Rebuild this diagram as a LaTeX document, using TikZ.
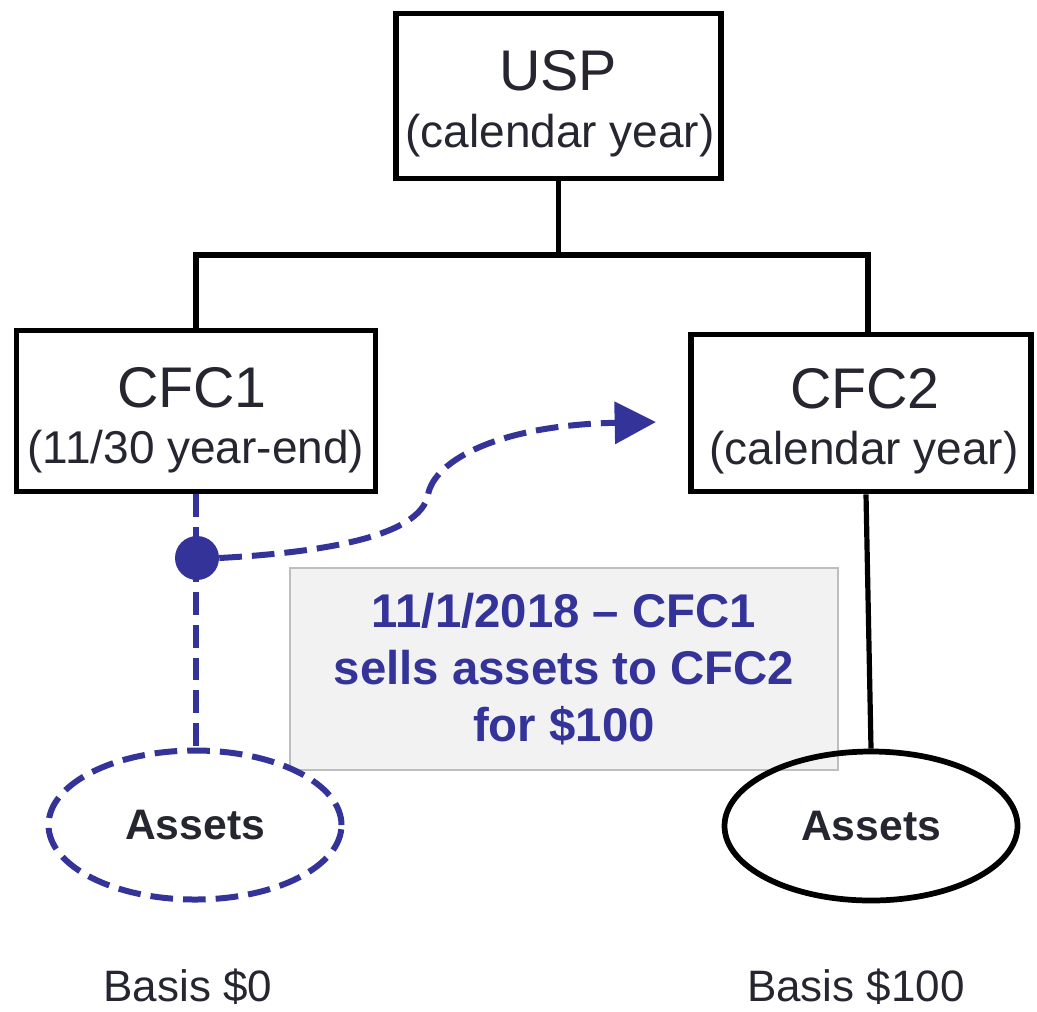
\documentclass[tikz,border=0pt]{standalone}
\usepackage{fontspec}
\setmainfont{Liberation Sans}
\usetikzlibrary{shapes.geometric,arrows.meta}
\definecolor{ink}{RGB}{38,38,48}
\definecolor{navy}{RGB}{51,51,153}
\definecolor{notefill}{RGB}{242,242,242}
\definecolor{noteedge}{RGB}{190,190,190}
\newcommand\pxu{0.75pt}
\begin{document}
\begin{tikzpicture}[x=0.75pt,y=-0.75pt,
  entity/.style={draw=black,line width=4.3pt,rectangle,inner sep=0pt,fill=white},
  titletext/.style={text=ink,font=\fontsize{43}{50}\selectfont,anchor=base,inner sep=0pt},
  subtext/.style={text=ink,font=\fontsize{34.5}{40}\selectfont,anchor=base,inner sep=0pt},
  link/.style={draw=black,line width=3.9pt},
  blob/.style={ellipse,minimum width=293*\pxu,minimum height=149*\pxu,inner sep=0pt,line width=4.3pt,text=ink,font=\bfseries\fontsize{32}{38}\selectfont},
  moved/.style={draw=navy,line width=4.5pt,dash pattern=on 17pt off 7.5pt},
  basis/.style={text=ink,font=\fontsize{33}{40}\selectfont,anchor=base,inner sep=0pt},
  note/.style={rectangle,fill=notefill,draw=noteedge,line width=1.2pt,align=center,text=navy,font=\bfseries\fontsize{35.5}{42.75}\selectfont}
]
\useasboundingbox (0,0) rectangle (1037,1011);

% boxes
\node[entity,minimum width=325*\pxu,minimum height=165*\pxu] (usp) at (558.5,96) {};
\node[titletext] (uspname) at (558,90) {USP};
\node[subtext] (uspyear) at (560,147) {(calendar year)};

\node[entity,minimum width=359*\pxu,minimum height=161*\pxu] (cfc1) at (196,411) {};
\node[titletext] (cfc1name) at (192,407) {CFC1};
\node[subtext] (cfc1year) at (196,463) {(11/30 year-end)};

\node[entity,minimum width=340*\pxu,minimum height=157*\pxu] (cfc2) at (861,413) {};
\node[titletext] (cfc2name) at (865,408) {CFC2};
\node[subtext] (cfc2year) at (864,464) {(calendar year)};

% ownership connectors
\coordinate (busL) at (196,255);
\coordinate (busR) at (868,255);
\coordinate (dropR) at (866,0);
\draw[link] (usp.south) -- (usp.south |- busL);
\draw[link] (cfc1.north) -- (busL) -- (busR) -- (busR |- cfc2.north);

% note
\node[note,minimum width=548*\pxu,minimum height=202*\pxu] (deal) at (564,669) {11/1/2018 – CFC1\\sells assets to CFC2\\for \$100};

% assets
\node[blob,draw=black] (assets2) at (871,826) {Assets};
\node[blob,moved] (assets1) at (195,825) {Assets};
\draw[link] (cfc2.south -| dropR) -- (assets2.north);
\draw[moved] (cfc1.south) -- (cfc1.south |- assets1.north);

% sale
\node[circle,fill=navy,minimum size=44*\pxu,inner sep=0pt] (sale) at (197,558) {};
\coordinate (tip) at (656,422);
\draw[moved,-{Triangle[length=31pt,width=31pt]}] (sale.east) .. controls (330,552) and (420,535) .. (428,495) .. controls (434,460) and (500,425) .. (tip);

% basis
\node[basis] (basis1) at (188,1001) {Basis \$0};
\node[basis] (basis2) at (856,1001) {Basis \$100};
\end{tikzpicture}
\end{document}
